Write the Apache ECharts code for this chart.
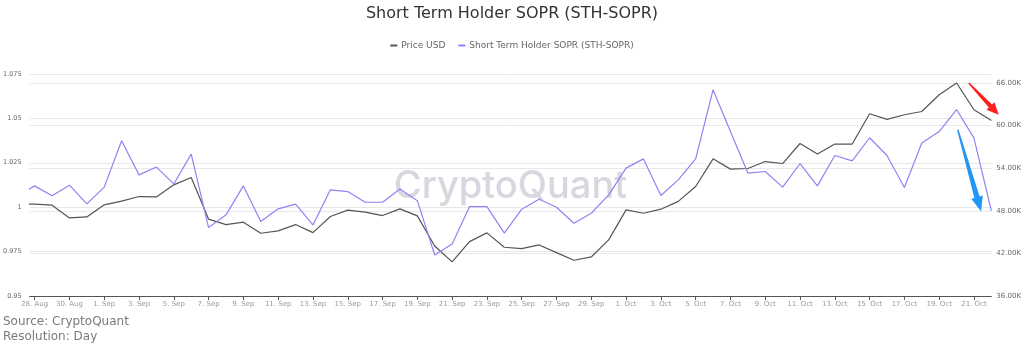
<!DOCTYPE html>
<html>
<head>
<meta charset="utf-8">
<title>Short Term Holder SOPR (STH-SOPR)</title>
<script src="https://cdn.jsdelivr.net/npm/echarts@6/dist/echarts.min.js"></script>
<style>
  html, body { margin: 0; padding: 0; background: #ffffff; }
  #chart { width: 1024px; height: 349px; }
</style>
</head>
<body>
<div id="chart"></div>
<script>
// Daily observations, 27 Aug 2021 – 22 Oct 2021
const dates = [
  '2021-08-27', '2021-08-28', '2021-08-29', '2021-08-30', '2021-08-31',
  '2021-09-01', '2021-09-02', '2021-09-03', '2021-09-04', '2021-09-05',
  '2021-09-06', '2021-09-07', '2021-09-08', '2021-09-09', '2021-09-10',
  '2021-09-11', '2021-09-12', '2021-09-13', '2021-09-14', '2021-09-15',
  '2021-09-16', '2021-09-17', '2021-09-18', '2021-09-19', '2021-09-20',
  '2021-09-21', '2021-09-22', '2021-09-23', '2021-09-24', '2021-09-25',
  '2021-09-26', '2021-09-27', '2021-09-28', '2021-09-29', '2021-09-30',
  '2021-10-01', '2021-10-02', '2021-10-03', '2021-10-04', '2021-10-05',
  '2021-10-06', '2021-10-07', '2021-10-08', '2021-10-09', '2021-10-10',
  '2021-10-11', '2021-10-12', '2021-10-13', '2021-10-14', '2021-10-15',
  '2021-10-16', '2021-10-17', '2021-10-18', '2021-10-19', '2021-10-20',
  '2021-10-21', '2021-10-22'
];

// Short Term Holder SOPR (left axis)
const sthSopr = [
  1.0061, 1.0120, 1.0064, 1.0124, 1.0019, 1.0113, 1.0374, 1.0182, 1.0226, 1.0131,
  1.0299, 0.9885, 0.9957, 1.0120, 0.9919, 0.9991, 1.0017, 0.9900, 1.0098, 1.0088,
  1.0028, 1.0028, 1.0103, 1.0037, 0.9731, 0.9793, 1.0003, 1.0003, 0.9854, 0.9989,
  1.0045, 1.0000, 0.9910, 0.9966, 1.0069, 1.0220, 1.0272, 1.0066, 1.0154, 1.0272,
  1.0661, 1.0426, 1.0192, 1.0201, 1.0113, 1.0246, 1.0120, 1.0291, 1.0261, 1.0391,
  1.0291, 1.0111, 1.0361, 1.0426, 1.0550, 1.0389, 0.9979
];

// BTC price in USD (right axis)
const priceUsd = [
  48980, 48930, 48790, 47000, 47140, 48840, 49360, 50010, 49960, 51660,
  52690, 46820, 46060, 46400, 44840, 45170, 46060, 44930, 47190, 48100,
  47810, 47330, 48270, 47280, 43050, 40800, 43660, 44890, 42870, 42670,
  43190, 42110, 41040, 41500, 43900, 48130, 47660, 48230, 49330, 51420,
  55320, 53870, 53960, 54940, 54660, 57480, 55990, 57400, 57400, 61670,
  60870, 61530, 61990, 64350, 66000, 62230, 60730
];

// Dates that carry a tick label on the time axis
const tickDates = [
  '2021-08-28', '2021-08-30', '2021-09-01', '2021-09-03', '2021-09-05',
  '2021-09-07', '2021-09-09', '2021-09-11', '2021-09-13', '2021-09-15',
  '2021-09-17', '2021-09-19', '2021-09-21', '2021-09-23', '2021-09-25',
  '2021-09-27', '2021-09-29', '2021-10-01', '2021-10-03', '2021-10-05',
  '2021-10-07', '2021-10-09', '2021-10-11', '2021-10-13', '2021-10-15',
  '2021-10-17', '2021-10-19', '2021-10-21'
];

// Left-axis tick values
const soprTicks = [0.95, 0.975, 1, 1.025, 1.05, 1.075];

// Trend arrows, given as [day index, price] pairs: tail then tip
const priceArrow = [[54.70, 66000], [56.42, 61530]];
const soprArrow = [[54.07, 59410], [55.41, 47890]];

const MONTHS = ['Jan', 'Feb', 'Mar', 'Apr', 'May', 'Jun', 'Jul', 'Aug', 'Sep', 'Oct', 'Nov', 'Dec'];
function dateLabel(iso) {
  const [y, m, d] = iso.split('-').map(Number);
  return d + '. ' + MONTHS[m - 1];
}

const tickIdx = tickDates.map(d => dates.indexOf(d));
const soprPoints = sthSopr.map((v, i) => [i, v]);
const pricePoints = priceUsd.map((v, i) => [i, v]);

const FONT = 'DejaVu Sans';
const chart = echarts.init(document.getElementById('chart'), null, { renderer: 'canvas' });

chart.setOption({
  animation: false,
  backgroundColor: '#ffffff',
  textStyle: { fontFamily: FONT },
  title: {
    text: 'Short Term Holder SOPR (STH-SOPR)',
    left: 'center',
    top: 1,
    textStyle: { fontFamily: FONT, fontSize: 16, fontWeight: 'normal', color: '#333333' }
  },
  legend: {
    top: 36,
    left: 'center',
    icon: 'rect',
    itemWidth: 7,
    itemHeight: 2,
    itemGap: 13,
    textStyle: { fontFamily: FONT, fontSize: 9, color: '#666666', padding: [0, 0, 0, -1] },
    data: ['Price USD', 'Short Term Holder SOPR (STH-SOPR)']
  },
  grid: { left: 27, right: 32, top: 74, bottom: 53, containLabel: false },
  xAxis: {
    type: 'value',
    min: 0.71,
    max: dates.length - 1,
    splitLine: { show: false },
    axisLine: { show: true, onZero: false, lineStyle: { color: '#555555', width: 1 } },
    axisTick: { show: true, customValues: tickIdx, length: 4, lineStyle: { color: '#555555' } },
    axisLabel: {
      customValues: tickIdx,
      formatter: v => dateLabel(dates[Math.round(v)]),
      fontFamily: FONT,
      fontSize: 7,
      color: '#9a9a9a',
      margin: 5
    }
  },
  yAxis: [
    {
      type: 'value',
      min: soprTicks[0],
      max: soprTicks[soprTicks.length - 1],
      interval: 0.025,
      axisLine: { show: false },
      axisTick: { show: false },
      splitLine: { show: true, lineStyle: { color: '#e8e8e8', width: 1 } },
      axisLabel: {
        formatter: v => String(+v.toFixed(3)),
        fontFamily: FONT,
        fontSize: 6.5,
        color: '#666666',
        margin: 8
      }
    },
    {
      type: 'value',
      min: 36000,
      max: 67270,
      interval: 6000,
      position: 'right',
      axisLine: { show: false },
      axisTick: { show: false },
      splitLine: { show: true, showMaxLine: false, lineStyle: { color: '#e8e8e8', width: 1 } },
      axisLabel: {
        showMaxLabel: false,
        formatter: v => (v / 1000).toFixed(2) + 'K',
        fontFamily: FONT,
        fontSize: 7,
        color: '#666666',
        margin: 5
      }
    }
  ],
  series: [
    {
      name: 'Price USD',
      type: 'line',
      yAxisIndex: 1,
      data: pricePoints,
      showSymbol: false,
      symbol: 'none',
      color: '#555555',
      lineStyle: { color: '#555555', width: 1.2 },
      z: 3
    },
    {
      name: 'Short Term Holder SOPR (STH-SOPR)',
      type: 'line',
      yAxisIndex: 0,
      data: soprPoints,
      showSymbol: false,
      symbol: 'none',
      color: '#8c84f4',
      lineStyle: { color: '#8c84f4', width: 1.2 },
      z: 4
    }
  ]
});

// Tapered arrow outline from tail to tip
function arrowShape(p0, p1, tailW, shaftW, headW, headLen) {
  const dx = p1[0] - p0[0], dy = p1[1] - p0[1];
  const len = Math.hypot(dx, dy);
  const ux = dx / len, uy = dy / len;
  const nx = -uy, ny = ux;
  const bx = p1[0] - ux * headLen, by = p1[1] - uy * headLen;
  return [
    [p0[0] + nx * tailW / 2, p0[1] + ny * tailW / 2],
    [bx + nx * shaftW / 2, by + ny * shaftW / 2],
    [bx + nx * headW / 2, by + ny * headW / 2],
    [p1[0], p1[1]],
    [bx - nx * headW / 2, by - ny * headW / 2],
    [bx - nx * shaftW / 2, by - ny * shaftW / 2],
    [p0[0] - nx * tailW / 2, p0[1] - ny * tailW / 2]
  ];
}

const toPx = p => chart.convertToPixel({ xAxisIndex: 0, yAxisIndex: 1 }, p);
const redTail = toPx(priceArrow[0]), redTip = toPx(priceArrow[1]);
const blueTail = toPx(soprArrow[0]), blueTip = toPx(soprArrow[1]);
const rect = chart.getModel().getComponent('grid').coordinateSystem.getRect();

chart.setOption({
  graphic: [
    {
      type: 'text',
      z: 0,
      silent: true,
      x: rect.x + rect.width / 2,
      y: 187,
      style: {
        text: 'CryptoQuant',
        font: '500 38px Inter',
        fill: '#d9d6df',
        align: 'center',
        verticalAlign: 'middle'
      }
    },
    {
      type: 'polygon',
      z: 100,
      silent: true,
      shape: { points: arrowShape(redTail, redTip, 1.5, 4.5, 11, 12) },
      style: { fill: '#ff1f1f' }
    },
    {
      type: 'polygon',
      z: 100,
      silent: true,
      shape: { points: arrowShape(blueTail, blueTip, 1.5, 5.5, 12, 15) },
      style: { fill: '#2196f3' }
    },
    {
      type: 'text',
      left: 3,
      top: 316,
      style: { text: 'Source: CryptoQuant', font: '12px "DejaVu Sans"', fill: '#7a7a7a' }
    },
    {
      type: 'text',
      left: 3,
      top: 331,
      style: { text: 'Resolution: Day', font: '12px "DejaVu Sans"', fill: '#7a7a7a' }
    }
  ]
});
</script>
</body>
</html>
